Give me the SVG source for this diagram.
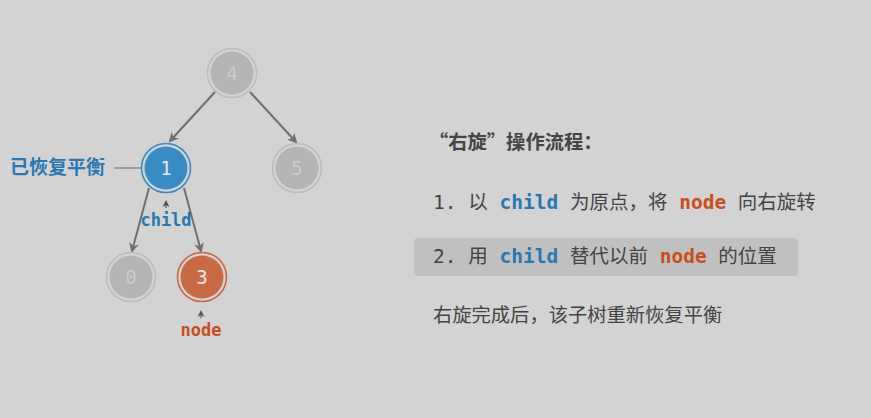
<svg xmlns="http://www.w3.org/2000/svg" width="871" height="418" viewBox="0 0 871 418">
<defs>
<marker id="ah" markerWidth="10" markerHeight="10" refX="8" refY="5" orient="auto" markerUnits="userSpaceOnUse">
<path d="M0,0 L10,5 L0,10 L3,5 Z" fill="#6f6f6f"/>
</marker>
<marker id="caret" markerWidth="8" markerHeight="8" refX="4" refY="4" orient="auto" markerUnits="userSpaceOnUse">
<path d="M0,0.5 L7,4 L0,7.5 L2,4 Z" fill="#555"/>
</marker>
</defs>
<style>
.bg{fill:#d3d3d3}
.edge{stroke:#6f6f6f;stroke-width:2;fill:none;marker-end:url(#ah)}
.ring{fill:none;stroke-width:1.6}
.gray .ring{stroke:#bdbdbd}
.gray .core{fill:#b4b4b4}
.gray text{fill:#cbcbcb}
.blue .ring{stroke:#3a8bc4}
.blue .core{fill:#3a8bc4}
.orange .ring{stroke:#c96a47}
.orange .core{fill:#c96a47}
.num{font-family:"DejaVu Sans Mono","Liberation Mono",monospace;font-size:19px;text-anchor:middle;dominant-baseline:central;fill:#e8e8e8}
.mono{font-family:"DejaVu Sans Mono","Noto Sans CJK SC",monospace;font-size:19.5px;fill:#444}
.cn{font-family:"Noto Sans CJK SC","Noto Sans",sans-serif;font-size:19.3px;fill:#444}
.kb{font-weight:bold;fill:#2a77b1}
.ko{font-weight:bold;fill:#c84e1d}
</style>
<rect class="bg" x="0" y="0" width="871" height="418"/>
<g id="connectors">
<line class="edge" x1="215" y1="92" x2="170" y2="141"/>
<line class="edge" x1="250" y1="92" x2="296" y2="142"/>
<line class="edge" x1="149" y1="188" x2="132" y2="251"/>
<line class="edge" x1="184" y1="188" x2="201" y2="251"/>
<line x1="114" y1="168" x2="142" y2="168" stroke="#8a8a8a" stroke-width="1.5"/>
<line x1="166" y1="208" x2="166" y2="203" stroke="#555" stroke-width="1.2" marker-end="url(#caret)"/>
<line x1="201" y1="318" x2="201" y2="313" stroke="#555" stroke-width="1.2" marker-end="url(#caret)"/>
</g>
<g id="n4" class="gray"><circle class="ring" cx="232" cy="73" r="24.5"/><circle class="core" cx="232" cy="73" r="21.5"/><text class="num" x="232" y="73">4</text></g>
<g id="n1" class="blue"><circle class="ring" cx="166" cy="168" r="24.5"/><circle class="core" cx="166" cy="168" r="21.5"/><text class="num" x="166" y="168">1</text></g>
<g id="n5" class="gray"><circle class="ring" cx="297" cy="168" r="24.5"/><circle class="core" cx="297" cy="168" r="21.5"/><text class="num" x="297" y="168">5</text></g>
<g id="n0" class="gray"><circle class="ring" cx="131" cy="277" r="24.5"/><circle class="core" cx="131" cy="277" r="21.5"/><text class="num" x="131" y="277">0</text></g>
<g id="n3" class="orange"><circle class="ring" cx="202" cy="277" r="24.5"/><circle class="core" cx="202" cy="277" r="21.5"/><text class="num" x="202" y="277">3</text></g>
<g id="labels">
<text x="10" y="174" font-family="Noto Sans CJK SC,sans-serif" font-size="19" font-weight="bold" fill="#2a77b1">已恢复平衡</text>
<text x="166" y="226" text-anchor="middle" font-family="DejaVu Sans Mono,monospace" font-size="17" font-weight="bold" fill="#2a77b1">child</text>
<text x="201" y="336" text-anchor="middle" font-family="DejaVu Sans Mono,monospace" font-size="17" font-weight="bold" fill="#c84e1d">node</text>
</g>
<g id="panel">
<text class="cn" x="429" y="149" font-weight="bold" font-size="18.2">“右旋”操作流程：</text>
<text class="mono" x="433" y="209" xml:space="preserve">1. 以 <tspan class="kb">child</tspan> 为原点，将 <tspan class="ko">node</tspan> 向右旋转</text>
<rect x="414" y="238" width="384" height="38" rx="4" fill="#c0c0c0"/>
<text class="mono" x="433" y="263" xml:space="preserve">2. 用 <tspan class="kb">child</tspan> 替代以前 <tspan class="ko">node</tspan> 的位置</text>
<text class="cn" x="433" y="322">右旋完成后，该子树重新恢复平衡</text>
</g>
</svg>
